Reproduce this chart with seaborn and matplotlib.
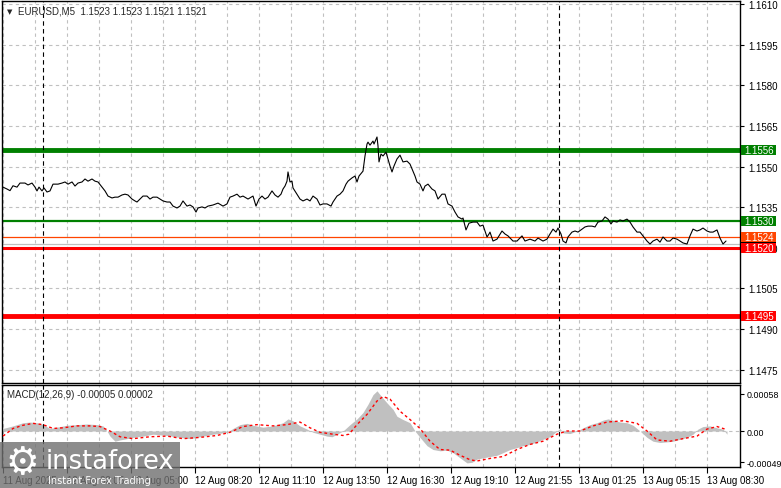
import numpy as np
import pandas as pd
import seaborn as sns
import matplotlib.pyplot as plt
import matplotlib.transforms as mtransforms
from matplotlib.patches import Rectangle

# EURUSD M5 close prices (bar position, price)
price_bar = [0, 2, 3.5, 5, 7, 8.5, 11, 12.5, 14.5, 16, 17, 18, 19.5, 20.5, 22, 23.5, 25, 27.5, 29.5, 31,
             32.5, 34.5, 36, 37.5, 39.5, 41, 42.5, 44.5, 46, 47.5, 49.5, 51, 52.5, 54.5, 56, 57.5, 59.5, 61, 62.5, 64.5,
             66, 67, 68.5, 70, 72, 73.5, 75, 77, 78.5, 80, 82, 83.5, 85, 87, 88.5, 90, 92, 93.5, 95, 96.5,
             97.5, 99.5, 101, 102.5, 105, 107.5, 110, 112, 113.5, 115, 117, 118.5, 120, 122.5, 125, 126.5, 128, 129.5, 131, 132.5,
             134.5, 136, 137.5, 139, 140, 141, 142, 142.5, 143.5, 144.5, 145, 147, 148.5, 150, 152, 153.5, 155, 157, 158.5, 160,
             162, 164, 165, 167, 168.5, 170, 171.5, 172.5, 174.5, 176, 177, 178, 180, 181, 182, 182.5, 183.5, 185, 185.5, 187,
             187.5, 188, 189, 190, 191.5, 192.5, 193.5, 194.5, 195.5, 197, 198.5, 200, 202, 203.5, 205, 206, 207, 208.5, 210, 211,
             212.5, 214.5, 216, 217.5, 219.5, 221, 222.5, 224.5, 226, 227.5, 229.5, 230, 231.5, 233, 235, 237, 238.5, 240, 242, 243,
             243.5, 245, 247, 249.5, 251, 252.5, 255, 257, 259.5, 261, 263.5, 266, 267.5, 270, 272, 273.5, 275, 276.5, 277.5, 279,
             280, 281.5, 282.5, 284.5, 286, 287.5, 289.5, 291, 292.5, 294.5, 296, 297.5, 299.5, 301, 302.5, 304, 305, 307, 308.5, 310,
             312, 313.5, 315, 317, 318.5, 320, 322, 323.5, 325, 327, 328.5, 330, 332, 333.5, 335, 337, 338.5, 340, 342, 343.5,
             345, 347, 348.5, 350, 352, 353.5, 355, 357, 358.5, 360, 361.5]
price = [1.15424, 1.15417, 1.15411, 1.15429, 1.15424, 1.15439, 1.15439, 1.15432, 1.15439, 1.15424, 1.15410, 1.15424, 1.15410, 1.15421, 1.15406, 1.15410, 1.15435, 1.15435, 1.15439, 1.15443,
         1.15435, 1.15443, 1.15428, 1.15439, 1.15443, 1.15454, 1.15446, 1.15454, 1.15446, 1.15443, 1.15424, 1.15410, 1.15391, 1.15384, 1.15387, 1.15387, 1.15395, 1.15398, 1.15395, 1.15380,
         1.15373, 1.15369, 1.15380, 1.15391, 1.15391, 1.15380, 1.15387, 1.15387, 1.15380, 1.15373, 1.15369, 1.15369, 1.15354, 1.15347, 1.15354, 1.15373, 1.15354, 1.15358, 1.15351, 1.15332,
         1.15347, 1.15351, 1.15347, 1.15354, 1.15358, 1.15365, 1.15354, 1.15362, 1.15387, 1.15391, 1.15398, 1.15387, 1.15391, 1.15380, 1.15391, 1.15354, 1.15380, 1.15391, 1.15380, 1.15387,
         1.15410, 1.15395, 1.15387, 1.15398, 1.15417, 1.15428, 1.15446, 1.15480, 1.15443, 1.15446, 1.15421, 1.15398, 1.15380, 1.15373, 1.15380, 1.15373, 1.15391, 1.15380, 1.15358, 1.15362,
         1.15362, 1.15354, 1.15369, 1.15391, 1.15398, 1.15410, 1.15435, 1.15446, 1.15458, 1.15465, 1.15443, 1.15465, 1.15483, 1.15539, 1.15583, 1.15590, 1.15579, 1.15594, 1.15583, 1.15609,
         1.15576, 1.15517, 1.15546, 1.15539, 1.15553, 1.15528, 1.15502, 1.15480, 1.15502, 1.15528, 1.15542, 1.15517, 1.15520, 1.15509, 1.15483, 1.15465, 1.15443, 1.15435, 1.15410, 1.15428,
         1.15435, 1.15417, 1.15410, 1.15380, 1.15398, 1.15398, 1.15362, 1.15354, 1.15332, 1.15314, 1.15306, 1.15310, 1.15266, 1.15291, 1.15295, 1.15295, 1.15280, 1.15284, 1.15240, 1.15251,
         1.15258, 1.15225, 1.15232, 1.15262, 1.15251, 1.15244, 1.15225, 1.15225, 1.15244, 1.15225, 1.15232, 1.15225, 1.15236, 1.15225, 1.15232, 1.15251, 1.15269, 1.15258, 1.15273, 1.15251,
         1.15225, 1.15218, 1.15240, 1.15258, 1.15262, 1.15258, 1.15269, 1.15277, 1.15280, 1.15280, 1.15277, 1.15295, 1.15299, 1.15314, 1.15306, 1.15288, 1.15299, 1.15295, 1.15303, 1.15299,
         1.15306, 1.15295, 1.15277, 1.15258, 1.15258, 1.15244, 1.15225, 1.15214, 1.15225, 1.15232, 1.15221, 1.15240, 1.15225, 1.15225, 1.15236, 1.15232, 1.15225, 1.15218, 1.15214, 1.15244,
         1.15269, 1.15262, 1.15266, 1.15273, 1.15262, 1.15258, 1.15258, 1.15266, 1.15236, 1.15214, 1.15225]

# MACD(12,26,9) histogram
macd_bar = [0, 5, 10, 13.5, 17, 20, 23.5, 27, 32, 37, 42, 47, 50, 52, 53.5, 56, 58.5, 62, 65, 70,
            75, 82, 88.5, 93.5, 98.5, 105, 112, 115, 118.5, 122, 125, 130, 135, 140, 142.5, 145, 148.5, 152, 155, 158.5,
            162, 164.5, 167, 170, 173.5, 177, 180, 182.5, 185, 187, 188.5, 192, 195, 197, 200, 203.5, 206, 208.5, 212, 215,
            218.5, 222, 225, 228.5, 232, 234.5, 237, 240, 243.5, 247, 250, 253.5, 257, 260, 263.5, 267, 270, 273.5, 277, 278.5,
            280, 283.5, 287, 290, 293.5, 297, 300, 302.5, 305, 308.5, 312, 315, 318.5, 322, 325, 328.5, 332, 335, 338.5, 342,
            345, 347.5, 350, 353.5, 357, 360, 362]
macd_hist = [0.00004, 0.00008, 0.00013, 0.00014, 0.00013, 0.00010, 0.00004, 0.00006, 0.00009, 0.00010, 0.00011, 0.00010, 0.00008, 0.0, -0.00008, -0.00016, -0.00014, -0.00012, -0.00010, -0.00008,
             -0.00005, -0.00007, -0.00010, -0.00012, -0.00009, -0.00005, -0.00002, 0.00004, 0.00010, 0.00012, 0.00009, 0.00006, 0.00008, 0.00013, 0.00019, 0.00016, 0.00008, 0.00003, -0.00002, -0.00005,
             -0.00008, -0.00009, -0.00005, 0.0, 0.00010, 0.00019, 0.00029, 0.00042, 0.00057, 0.00063, 0.00057, 0.00044, 0.00034, 0.00023, 0.00018, 0.00013, 0.0, -0.00010, -0.00023, -0.00029,
             -0.00031, -0.00030, -0.00034, -0.00042, -0.00050, -0.00049, -0.00044, -0.00042, -0.00040, -0.00038, -0.00034, -0.00029, -0.00026, -0.00023, -0.00021, -0.00017, -0.00013, -0.00009, 0.0, 0.00004,
             -0.00003, -0.00004, 0.0, 0.00005, 0.00010, 0.00013, 0.00017, 0.00019, 0.00017, 0.00014, 0.00013, 0.00009, 0.0, -0.00010, -0.00016, -0.00018, -0.00017, -0.00016, -0.00013, -0.00010,
             -0.00005, 0.00003, 0.00007, 0.00008, 0.00005, 0.00003, -0.00005]

# MACD signal line
signal_bar = [0, 5, 10, 15, 20, 25, 30, 37, 43.5, 48.5, 53.5, 58.5, 65, 73.5, 82, 90, 98.5, 107, 113.5, 120,
              127, 135, 142, 148.5, 153.5, 158.5, 165, 170, 173, 177, 182, 187, 190, 193.5, 198.5, 203.5, 208.5, 213.5, 218.5, 223.5,
              228.5, 233.5, 237, 243.5, 250, 257, 263.5, 270, 277, 282, 288.5, 295, 302, 310, 317, 322, 327, 333.5, 340, 347,
              352, 357, 362]
signal = [-0.00008, 0.00004, 0.00009, 0.00012, 0.00010, 0.00004, 0.00005, 0.00008, 0.00008, 0.00007, 0.0, -0.00009, -0.00012, -0.00009, -0.00008, -0.00012, -0.00010, -0.00007, -0.00002, 0.00007,
          0.00010, 0.00008, 0.00010, 0.00014, 0.00005, -0.00002, -0.00005, -0.00007, -0.00005, 0.00010, 0.00026, 0.00047, 0.00054, 0.00050, 0.00031, 0.00018, 0.00004, -0.00016, -0.00029, -0.00030,
          -0.00038, -0.00045, -0.00047, -0.00043, -0.00040, -0.00029, -0.00021, -0.00016, -0.00005, 0.0, 0.0, 0.00008, 0.00014, 0.00016, 0.00012, 0.0, -0.00014, -0.00016, -0.00012, -0.00008,
          0.00003, 0.00007, 0.00002]

time_ticks = [0, 32, 64, 96, 128, 160, 192, 224, 256, 288, 320, 352]
time_labels = ['11 Aug 2025', '12 Aug 02:05', '12 Aug 05:00', '12 Aug 08:20', '12 Aug 11:10', '12 Aug 13:50',
               '12 Aug 16:30', '12 Aug 19:10', '12 Aug 21:55', '13 Aug 01:25', '13 Aug 05:15', '13 Aug 08:30']
day_breaks = [20, 278]
price_ticks = [1.1610, 1.1595, 1.1580, 1.1565, 1.1550, 1.1535, 1.1520, 1.1505, 1.1490, 1.1475]
level_prices = [1.1556, 1.1530, 1.1524, 1.15215, 1.1520, 1.1495]
level_labels = ['1.1556', '1.1530', '1.1524', '', '1.1520', '1.1495']
level_colors = ['#008000', '#008000', '#ff4500', '#c0c0c0', '#ff0000', '#ff0000']
level_widths = [3.5, 1.6, 0.9, 0.9, 2.2, 3.5]
macd_ticks = [0.00058, 0.0, -0.00049]
macd_tick_labels = ['0.00058', '0.00', '-0.00049']

sns.set_theme(style='white')
plt.rcParams['font.family'] = ['Liberation Sans', 'DejaVu Sans']

W, H = 781, 489
fig = plt.figure(figsize=(W / 100, H / 100), dpi=100)
ax = fig.add_axes([2 / W, 105 / H, 738 / W, 382 / H])
ax2 = fig.add_axes([2 / W, 21 / H, 738 / W, 82 / H])

grid_kw = dict(color='#c0c0c0', lw=0.8, ls=(0, (3, 3)))
for a in (ax, ax2):
    a.set_xlim(-0.5, 368.5)
    for s in a.spines.values():
        s.set_color('black')
        s.set_linewidth(1)
    a.set_xticks(np.arange(16, 368, 16), minor=True)
    a.grid(True, which='both', axis='x', **grid_kw)
    a.set_axisbelow(True)
    a.yaxis.tick_right()
    a.tick_params(axis='y', which='both', right=True, length=3, width=0.8, pad=3,
                  labelsize=7, colors='black', direction='out')

# price panel
ax.set_ylim(1.14701, 1.16111)
ax.set_yticks(price_ticks)
ax.set_yticklabels([f'{p:.4f}' for p in price_ticks])
ax.grid(True, axis='y', **grid_kw)
ax.set_xticks(time_ticks)
ax.tick_params(axis='x', which='both', bottom=False, labelbottom=False)
for p, c, w in zip(level_prices, level_colors, level_widths):
    ax.axhline(p, color=c, lw=w, zorder=2)
sns.lineplot(x=price_bar, y=price, ax=ax, color='black', lw=0.8, estimator=None, sort=False, zorder=3)

blend = mtransforms.blended_transform_factory(fig.transFigure, ax.transData)
box_h = 0.00037
for p, lab, c in zip(level_prices, level_labels, level_colors):
    fc = 'black' if lab == '' else c
    ax.add_patch(Rectangle((741 / W, p - box_h / 2), 35 / W, box_h, transform=blend,
                           facecolor=fc, edgecolor='none', clip_on=False, zorder=5 if lab else 4))
    if lab:
        ax.text(744 / W, p, lab, transform=blend, color='white', fontsize=7,
                va='center', ha='left', zorder=6, clip_on=False)

ax.text(5 / W, 1 - 10 / 382, '\u25bc', transform=ax.transAxes, fontsize=5, va='center', ha='left',
        family='DejaVu Sans')
ax.text(17 / W, 1 - 10 / 382, 'EURUSD,M5  1.1523 1.1523 1.1521 1.1521', transform=ax.transAxes,
        fontsize=7, va='center', ha='left')

# MACD panel
ax2.set_ylim(-0.000564, 0.000721)
ax2.set_yticks(macd_ticks)
ax2.set_yticklabels(macd_tick_labels)
ax2.tick_params(axis='y', labelsize=6.4, pad=2)
ax2.axhline(0, zorder=1, **grid_kw)
ax2.fill_between(macd_bar, 0, macd_hist, color='#c0c0c0', lw=0, zorder=2)
sns.lineplot(x=signal_bar, y=signal, ax=ax2, color='#ff0000', lw=1, estimator=None, sort=False, zorder=3)
ax2.lines[-1].set_dashes([2, 2])
ax2.set_xticks(time_ticks)
ax2.set_xticklabels(time_labels)
ax2.tick_params(axis='x', which='major', bottom=True, length=4, width=0.8, pad=2, labelsize=7,
                colors='black', direction='out')
ax2.tick_params(axis='x', which='minor', bottom=False)
for lbl in ax2.get_xticklabels():
    lbl.set_ha('left')
ax2.text(5 / W, 1 - 9 / 82, 'MACD(12,26,9) -0.00005 0.00002', transform=ax2.transAxes,
         fontsize=7, va='center', ha='left')

for a in (ax, ax2):
    a.set_xlabel('')
    a.set_ylabel('')
    for b in day_breaks:
        a.axvline(b, color='black', lw=0.8, ls=(0, (4, 3)), zorder=2)

# watermark
fig.add_artist(Rectangle((0, 0), 180 / W, 46 / H, transform=fig.transFigure,
                         facecolor='#707070', alpha=0.8, edgecolor='none', zorder=10))
fig.text(5 / W, 25 / H, '\u2699', color='white', fontsize=27, va='center', ha='left',
         family='DejaVu Sans', zorder=11)
fig.text(46 / W, 20 / H, 'instaforex', color='white', fontsize=18.5, va='baseline', ha='left',
         family='DejaVu Sans', zorder=11)
fig.text(48 / W, 8 / H, 'Instant Forex Trading', color='white', fontsize=7, va='center', ha='left',
         family='DejaVu Sans', zorder=11)

plt.savefig('out.png', dpi=100)
